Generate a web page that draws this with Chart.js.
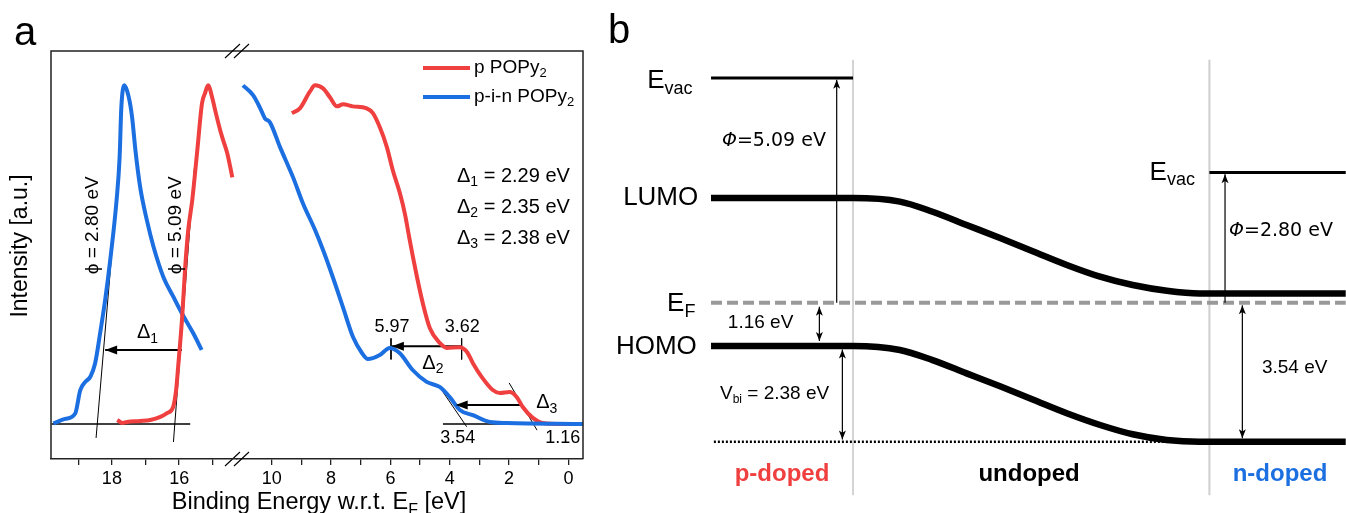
<!DOCTYPE html>
<html>
<head>
<meta charset="utf-8">
<title>UPS spectra and band diagram</title>
<script src="https://cdn.jsdelivr.net/npm/chart.js@4.4.1/dist/chart.umd.min.js"></script>
<style>
  html, body { margin: 0; padding: 0; background: #fff; }
  #fig { position: relative; width: 1346px; height: 513px; overflow: hidden; }
  #fig canvas { position: absolute; top: 0; }
  #spLow, #spHigh { left: 0; }
  #band { left: 600px; }
</style>
</head>
<body>
<div id="fig">
  <canvas id="spLow" width="600" height="513"></canvas>
  <canvas id="spHigh" width="600" height="513"></canvas>
  <canvas id="band" width="746" height="513"></canvas>
</div>
<script>
// ---- panel a: UPS spectra, binding energy (eV) vs intensity (a.u.) ----
// secondary electron cut-off (left part of the broken axis)
const pCutE = [17.84, 17.69, 17.55, 17.16, 16.86, 16.56, 16.36, 16.18, 16.09, 16.03, 15.91, 15.82, 15.73, 15.61, 15.46, 15.32, 15.23, 15.14, 15.02, 14.93, 14.78, 14.69, 14.57, 14.48, 14.42];
const pCutI = [1.2, 0.3, 0.6, 0.9, 1.2, 2.1, 3.2, 5.0, 10.0, 16.8, 31.5, 46.2, 57.1, 65.9, 80.6, 94.4, 97.4, 99.7, 96.2, 92.4, 86.5, 83.5, 79.7, 75.6, 72.6];
const pinCutE = [19.74, 19.39, 19.09, 18.94, 18.79, 18.64, 18.50, 18.35, 18.20, 18.05, 17.86, 17.77, 17.72, 17.63, 17.50, 17.40, 17.30, 17.16, 16.96, 16.76, 16.47, 16.17, 15.92, 15.58, 15.33];
const pinCutI = [0.2, 1.5, 3.1, 10.0, 12.4, 13.9, 17.8, 26.7, 36.5, 48.2, 65.9, 78.5, 93.0, 99.7, 96.3, 90.4, 80.6, 69.8, 60.0, 52.1, 43.3, 37.4, 32.6, 26.7, 21.8];
// valence region (right part of the broken axis)
const pValE = [9.32, 9.05, 8.71, 8.54, 8.27, 8.04, 7.80, 7.60, 7.27, 6.80, 6.59, 6.36, 6.12, 5.92, 5.68, 5.51, 5.38, 5.24, 5.11, 4.91, 4.67, 4.33, 4.10, 3.67, 3.42, 3.22, 2.92, 2.55, 2.31, 1.98, 1.74, 1.54, 1.20, 0.87, 0.19, -0.49];
const pValI = [91.5, 92.9, 97.9, 99.7, 98.8, 96.2, 93.5, 94.1, 93.5, 92.9, 91.5, 87.4, 81.5, 74.7, 67.9, 61.8, 55.6, 49.1, 43.5, 35.6, 28.2, 23.8, 22.4, 22.6, 21.2, 17.9, 13.8, 10.0, 9.1, 9.4, 7.9, 5.0, 1.8, 0.3, 0, 0];
const pinValE = [10.97, 10.63, 10.39, 10.23, 10.06, 9.72, 9.28, 8.95, 8.54, 8.27, 7.94, 7.60, 7.26, 6.96, 6.76, 6.36, 6.02, 5.69, 5.25, 4.78, 4.34, 4.00, 3.66, 3.22, 2.65, 2.08, -0.49];
const pinValI = [99.7, 96.8, 93.0, 90.0, 88.8, 81.5, 72.6, 65.0, 57.1, 51.2, 43.2, 34.4, 25.6, 20.9, 19.1, 20.3, 22.4, 20.9, 15.9, 12.4, 10.9, 7.9, 4.1, 2.6, 0.6, 0.3, 0];

const seriesNames = ['p POPy_{2}', 'p-i-n POPy_{2}'];
const cutTicks = [15, 16, 17, 18, 19];
const valTicks = [0, 1, 2, 3, 4, 5, 6, 7, 8, 9, 10];
const deltas = ['2.29', '2.35', '2.38'];

// ---- panel b: band diagram (position, energy vs E_F), schematic ----
const bendPos = [0, 1, 1.33, 1.56, 1.80, 2.04, 2.27, 2.51, 2.74, 2.97, 3.21, 3.44, 4.47];
const lumoE = [2.37, 2.37, 2.29, 2.06, 1.76, 1.46, 1.16, 0.85, 0.59, 0.40, 0.27, 0.21, 0.21];
const homoE = [-0.98, -0.98, -1.07, -1.30, -1.60, -1.90, -2.20, -2.51, -2.77, -2.98, -3.11, -3.15, -3.15];
const vacPos = [[0, 1], [3.51, 4.47]];
const vacE = [5.09, 2.95];
const regionEdges = [1, 3.51];
// arrows: position, from, to, heads
const arrowPos = [0.885, 3.62, 0.763, 0.925, 3.742];
const arrowFrom = [0, 0, -0.09, -1.06, -0.06];
const arrowTo = [5.05, 2.91, -0.87, -3.10, -3.07];
const arrowBoth = [false, false, true, true, true];

const FONT = '"Liberation Sans", Arial, sans-serif';
const DEJAVU = '"DejaVu Sans", sans-serif';
const RED = '#ef3f3f';
const BLUE = '#1c6fe0';
Chart.defaults.font.family = FONT;

const pts = (xs, ys) => xs.map((x, i) => ({ x: x, y: Array.isArray(ys) ? ys[i] : ys }));

function line(xs, ys, o) {
  return Object.assign({ data: pts(xs, ys), borderColor: '#000', borderWidth: 1, pointRadius: 0, fill: false, tension: 0 }, o || {});
}

// text with _{sub} and ^{italic} pieces
function rich(ctx, str, x, y, size, o) {
  o = o || {};
  const fam = o.family || FONT;
  const bold = o.bold ? 'bold ' : '';
  const parts = str.split(/(_\{[^}]*\}|\^\{[^}]*\})/).filter(Boolean).map(s => {
    if (s[0] === '_' && s[1] === '{') return { t: s.slice(2, -1), sub: true };
    if (s[0] === '^' && s[1] === '{') return { t: s.slice(2, -1), it: true };
    return { t: s };
  });
  const sub = Math.round(size * (o.sub || 0.7));
  parts.forEach(p => {
    p.font = (p.it ? 'italic ' : '') + bold + (p.sub ? sub : size) + 'px ' + fam;
    ctx.font = p.font;
    p.w = ctx.measureText(p.t).width;
  });
  const total = parts.reduce((s, p) => s + p.w, 0);
  let cx = o.align === 'center' ? x - total / 2 : o.align === 'right' ? x - total : x;
  ctx.save();
  ctx.fillStyle = o.color || '#000';
  ctx.textAlign = 'left';
  ctx.textBaseline = o.baseline || 'middle';
  parts.forEach(p => {
    ctx.font = p.font;
    ctx.fillText(p.t, cx, y + (p.sub ? size * (o.drop || 0.3) : 0));
    cx += p.w;
  });
  ctx.restore();
}

function upright(ctx, str, x, y, size) {
  ctx.save();
  ctx.translate(x, y);
  ctx.rotate(-Math.PI / 2);
  rich(ctx, str, 0, 0, size, { align: 'center' });
  ctx.restore();
}

function head(ctx, from, to, len, half, notch) {
  const ang = Math.atan2(to.y - from.y, to.x - from.x);
  ctx.save();
  ctx.translate(to.x, to.y);
  ctx.rotate(ang);
  ctx.beginPath();
  ctx.moveTo(0, 0);
  ctx.lineTo(-len, -half);
  ctx.lineTo(-len * notch, 0);
  ctx.lineTo(-len, half);
  ctx.closePath();
  ctx.fillStyle = '#000';
  ctx.fill();
  ctx.restore();
}

const arrows = {
  id: 'arrows',
  afterDatasetsDraw(chart) {
    const ctx = chart.ctx;
    chart.data.datasets.forEach((ds, i) => {
      if (!ds.arrow) return;
      const p = chart.getDatasetMeta(i).data;
      const a = p[0], b = p[p.length - 1];
      const s = ds.arrow.size;
      head(ctx, a, b, s[0], s[1], s[2]);
      if (ds.arrow.both) head(ctx, b, a, s[0], s[1], s[2]);
    });
  }
};

function spectrum(id, datasets, min, max, ticks, pad, notes) {
  return new Chart(document.getElementById(id), {
    type: 'line',
    data: { datasets: datasets },
    options: {
      responsive: false,
      animation: false,
      layout: { padding: pad },
      plugins: { legend: { display: false }, tooltip: { enabled: false } },
      scales: {
        x: {
          type: 'linear', reverse: true, min: min, max: max,
          afterBuildTicks: s => { s.ticks = ticks.map(v => ({ value: v })); },
          afterFit: s => { s.height = 54; },
          grid: { drawOnChartArea: false, tickLength: 6, color: '#222', lineWidth: 1.3 },
          border: { color: '#222', width: 1.5 },
          ticks: {
            autoSkip: false, maxRotation: 0, padding: 3, color: '#000', font: { size: 18 },
            callback: v => (v % 2 === 0 ? String(v) : '')
          }
        },
        y: { display: false, min: -10.3, max: 109.8 }
      }
    },
    plugins: [arrows, notes]
  });
}

const curve = (xs, ys, color) => line(xs, ys, { borderColor: color, borderWidth: 4, cubicInterpolationMode: 'monotone' });
const bigHead = { size: [12, 4.5, 1] };

// valence part, also draws the frame and panel texts
const valNotes = {
  id: 'valNotes',
  afterDraw(chart) {
    const { ctx, scales: { x, y } } = chart;
    const X = v => x.getPixelForValue(v), Y = v => y.getPixelForValue(v);
    rich(ctx, '5.97', X(5.95), Y(28.4), 18, { align: 'center' });
    rich(ctx, '3.62', X(3.58), Y(28.4), 18, { align: 'center' });
    rich(ctx, 'Δ_{2}', X(4.57), Y(17.9), 20, { align: 'center' });
    rich(ctx, 'Δ_{3}', X(0.73), Y(6.2), 20, { align: 'center' });
    rich(ctx, '3.54', X(3.73), Y(-4.1), 18, { align: 'center' });
    rich(ctx, '1.16', X(0.19), Y(-4.1), 18, { align: 'center' });

    const L = 51, T = chart.chartArea.top, R = chart.chartArea.right, B = chart.chartArea.bottom;
    ctx.save();
    ctx.strokeStyle = '#222';
    ctx.lineWidth = 1.5;
    ctx.beginPath();
    ctx.moveTo(L, B); ctx.lineTo(L, T); ctx.lineTo(R, T); ctx.lineTo(R, B);
    ctx.stroke();
    // axis break marks
    const bx = chart.chartArea.left;
    ctx.lineWidth = 1.1;
    ctx.strokeStyle = '#000';
    [T, B].forEach(by => {
      ctx.beginPath();
      ctx.moveTo(bx - 12, by + 7); ctx.lineTo(bx + 3, by - 7);
      ctx.moveTo(bx - 3, by + 7); ctx.lineTo(bx + 12, by - 7);
      ctx.stroke();
    });
    // legend
    [RED, BLUE].forEach((c, i) => {
      const ly = 68 + 29 * i;
      ctx.strokeStyle = c;
      ctx.lineWidth = 4;
      ctx.beginPath(); ctx.moveTo(423, ly); ctx.lineTo(470, ly); ctx.stroke();
      rich(ctx, seriesNames[i], 474, ly, 19, {});
    });
    ctx.restore();
    deltas.forEach((d, i) => rich(ctx, 'Δ_{' + (i + 1) + '} = ' + d + ' eV', 457, 176 + 31 * i, 20, {}));
    rich(ctx, 'Binding Energy w.r.t. E_{F} [eV]', 319, 509, 23.5, { align: 'center', baseline: 'alphabetic', drop: 0.25 });
    upright(ctx, 'Intensity [a.u.]', 21, 246, 23);
    rich(ctx, 'a', 14, 45, 40, { baseline: 'alphabetic' });
  }
};

const cutNotes = {
  id: 'cutNotes',
  afterDraw(chart) {
    const { ctx, scales: { x, y } } = chart;
    const X = v => x.getPixelForValue(v), Y = v => y.getPixelForValue(v);
    rich(ctx, 'Δ_{1}', X(16.94), Y(26.8), 20, { align: 'center' });
    upright(ctx, 'ϕ = 2.80 eV', X(18.56), Y(58.5), 19);
    upright(ctx, 'ϕ = 5.09 eV', X(16.09), Y(58.5), 19);
  }
};

spectrum('spLow', [
  curve(pinValE, pinValI, BLUE),
  curve(pValE, pValI, RED),
  line([4.23, -0.49], 0, { borderWidth: 1.3 }),
  line([4.39, 3.43], [11.5, -0.8]),
  line([2.00, 1.06], [12.1, -1.8]),
  line([3.60, 5.95], 22.9, { borderWidth: 2, arrow: bigHead }),
  line([5.98, 5.98], [25.2, 19.0]),
  line([3.60, 3.60], [25.2, 19.0]),
  line([1.55, 3.80], 5.6, { borderWidth: 2, arrow: bigHead })
], -0.49, 11.17, valTicks, { left: 237, top: 51, right: 17, bottom: 0 }, valNotes);

spectrum('spHigh', [
  curve(pCutE, pCutI, RED),
  curve(pinCutE, pinCutI, BLUE),
  line([19.79, 15.67], 0, { borderWidth: 1.3 }),
  line([17.77, 18.47], [77.4, -4.1]),
  line([15.55, 16.17], [75.0, -5.3]),
  line([15.92, 18.20], 21.8, { borderWidth: 2, arrow: bigHead })
], 14.28, 19.81, cutTicks, { left: 51, top: 51, right: 363, bottom: 0 }, cutNotes);

// ---- panel b ----
const bandNotes = {
  id: 'bandNotes',
  afterDraw(chart) {
    const { ctx, scales: { x, y } } = chart;
    const X = v => x.getPixelForValue(v), Y = v => y.getPixelForValue(v);
    rich(ctx, 'E_{vac}', X(-0.13), Y(5.02), 26, { align: 'right', sub: 0.69 });
    rich(ctx, 'LUMO', X(-0.09), Y(2.37), 26, { align: 'right' });
    rich(ctx, 'E_{F}', X(-0.11), Y(-0.03), 26, { align: 'right', sub: 0.69 });
    rich(ctx, 'HOMO', X(-0.10), Y(-1.0), 26, { align: 'right' });
    rich(ctx, '1.16 eV', X(0.349), Y(-0.46), 19, { align: 'center' });
    rich(ctx, 'V_{bi} = 2.38 eV', X(0.063), Y(-2.07), 19, { sub: 0.65 });
    rich(ctx, '^{Φ}=5.09 eV', X(0.077), Y(3.66), 19, { family: DEJAVU });
    rich(ctx, 'E_{vac}', X(3.408), Y(2.95), 26, { align: 'right', sub: 0.69 });
    rich(ctx, '^{Φ}=2.80 eV', X(3.648), Y(1.63), 19, { family: DEJAVU });
    rich(ctx, '3.54 eV', X(3.88), Y(-1.48), 19);
    rich(ctx, 'p-doped', X(0.5), Y(-3.88), 24, { align: 'center', bold: true, color: RED });
    rich(ctx, 'undoped', X(2.24), Y(-3.88), 24, { align: 'center', bold: true });
    rich(ctx, 'n-doped', X(4.007), Y(-3.88), 24, { align: 'center', bold: true, color: BLUE });
    rich(ctx, 'b', 8, 43, 40, { baseline: 'alphabetic' });
  }
};

const bandSets = [
  line(bendPos, lumoE, { borderWidth: 6.5, cubicInterpolationMode: 'monotone' }),
  line(bendPos, homoE, { borderWidth: 6.5, cubicInterpolationMode: 'monotone' }),
  line(vacPos[0], vacE[0], { borderWidth: 3 }),
  line(vacPos[1], vacE[1], { borderWidth: 3 })
];
arrowPos.forEach((p, i) => {
  bandSets.push(line([p, p], [arrowFrom[i], arrowTo[i]], {
    borderWidth: 1.2,
    arrow: { size: [9, 3.5, 0.75], both: arrowBoth[i] }
  }));
});
bandSets.push(
  line([0.02, 3.3], -3.15, { borderWidth: 2.5, borderDash: [2, 2] }),
  line([0, 4.47], 0, { borderWidth: 4, borderColor: '#999', borderDash: [11, 5] }),
  line([regionEdges[0], regionEdges[0]], [-4.36, 5.5], { borderColor: '#a8a8a8', borderWidth: 1 }),
  line([regionEdges[1], regionEdges[1]], [-4.36, 5.5], { borderColor: '#cfcfcf', borderWidth: 2 })
);

new Chart(document.getElementById('band'), {
  type: 'line',
  data: { datasets: bandSets },
  options: {
    responsive: false,
    animation: false,
    layout: { padding: 0 },
    plugins: { legend: { display: false }, tooltip: { enabled: false } },
    scales: {
      x: { type: 'linear', display: false, min: -0.782, max: 4.472 },
      y: { display: false, min: -4.763, max: 6.856 }
    }
  },
  plugins: [arrows, bandNotes]
});
</script>
</body>
</html>
